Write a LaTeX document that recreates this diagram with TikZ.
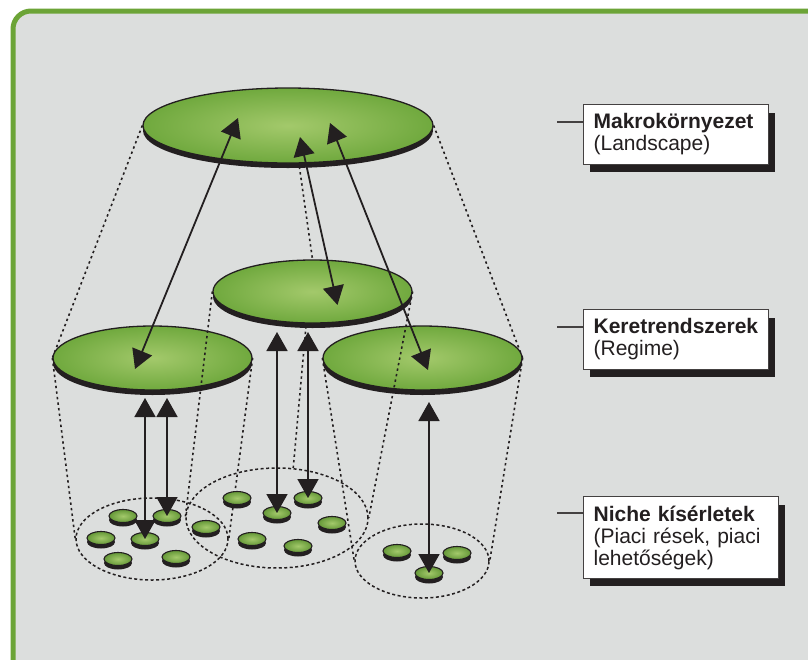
\documentclass[tikz,border=0pt]{standalone}
\usepackage{fontspec}
\setmainfont{Liberation Sans}
\usetikzlibrary{shapes.geometric,arrows.meta,shadows,backgrounds}
\definecolor{framegreen}{HTML}{6CA437}
\definecolor{panelgray}{HTML}{DCDEDD}
\definecolor{inkdark}{HTML}{231F20}
\definecolor{platein}{HTML}{A3C96B}
\definecolor{plateout}{HTML}{70A93E}
\tikzset{
  plate/.style={ellipse, inner sep=0pt, draw=inkdark, line width=1.3pt,
    inner color=platein, outer color=plateout,
    general shadow={fill=inkdark, shadow yshift=-5pt}},
  nichedisc/.style={ellipse, inner sep=0pt, draw=inkdark, line width=1.1pt,
    minimum width=28pt, minimum height=13pt,
    inner color=platein, outer color=plateout!90!black,
    general shadow={fill=inkdark, shadow yshift=-4pt}},
  nichegroup/.style={ellipse, inner sep=0pt, draw=inkdark, line width=1.5pt,
    dash pattern=on 3pt off 2.5pt},
  cone/.style={draw=inkdark, line width=1.6pt, dash pattern=on 2.4pt off 3.2pt},
  link/.style={draw=inkdark, line width=1.8pt,
    {Triangle[width=21pt,length=19pt]}-{Triangle[width=21pt,length=19pt]}},
  tag/.style={draw=inkdark!85, line width=1.2pt, fill=white, anchor=north west,
    align=left, inner xsep=10pt, inner ysep=9pt, text=inkdark,
    font=\fontsize{21}{22}\selectfont,
    general shadow={fill=inkdark, shadow xshift=6pt, shadow yshift=-8pt}},
  tagline/.style={draw=inkdark!85, line width=1.3pt}
}

\begin{document}
\begin{tikzpicture}[x=1pt,y=-1pt]
\clip (0,0) rectangle (808,659);
\begin{scope}[on background layer]
\fill[white] (0,0) rectangle (808,659);
\draw[framegreen, line width=5pt, fill=panelgray, rounded corners=18pt]
  (13,11) rectangle (850,700);
\end{scope}
%%%%%%%%%%%%%%%%%%%%%%%%%%%%%%%%
%% landscape and regimes
%%%%%%%%%%%%%%%%%%%%%%%%%%%%%%%%
\node[plate, minimum width=290pt, minimum height=75pt] (land) at (288,125.5) {};
\node[plate, minimum width=199pt, minimum height=63pt] (regM) at (312.5,291.5) {};
\node[plate, minimum width=199pt, minimum height=64pt] (regL) at (152.5,358) {};
\node[plate, minimum width=199pt, minimum height=64pt] (regR) at (422.5,358) {};
%%%%%%%%%%%%%%%%%%%%%%%%%%%%%%%%
%% niches
%%%%%%%%%%%%%%%%%%%%%%%%%%%%%%%%
\node[nichegroup, minimum width=152pt, minimum height=82pt]  (grpL) at (152,539) {};
\node[nichegroup, minimum width=182pt, minimum height=100pt] (grpC) at (277,518) {};
\node[nichegroup, minimum width=134pt, minimum height=74pt]  (grpR) at (422,561) {};
%
\node[nichedisc] (nl1) at (123,516) {};
\node[nichedisc] (nl2) at (167,516) {};
\node[nichedisc] (nl3) at (101,538) {};
\node[nichedisc] (nl4) at (145,539) {};
\node[nichedisc] (nl5) at (118,559) {};
\node[nichedisc] (nl6) at (176,557) {};
%
\node[nichedisc] (nc1) at (237,498) {};
\node[nichedisc] (nc2) at (308,498) {};
\node[nichedisc] (nc3) at (277,513) {};
\node[nichedisc] (nc4) at (206,527) {};
\node[nichedisc] (nc5) at (332,523) {};
\node[nichedisc] (nc6) at (252,539) {};
\node[nichedisc] (nc7) at (298,546) {};
%
\node[nichedisc] (nr1) at (397,551) {};
\node[nichedisc] (nr2) at (457,553) {};
\node[nichedisc] (nr3) at (429,573) {};
%%%%%%%%%%%%%%%%%%%%%%%%%%%%%%%%
%% dotted cones
%%%%%%%%%%%%%%%%%%%%%%%%%%%%%%%%
\coordinate (landB) at (297,150);
\coordinate (regMb) at (307,315);
\begin{scope}[on background layer]
\draw[cone] (land.west)--(regL.west);
\draw[cone] (land.east)--(regR.east);
\draw[cone] (landB)--(regM.north);
\draw[cone] (regL.west)--(grpL.west);
\draw[cone] (regL.east)--(grpL.east);
\draw[cone] (regMb)--(grpC.72);
\draw[cone] (regR.west)--(grpR.west);
\draw[cone] (regR.east)--(grpR.east);
\end{scope}
\draw[cone] (regM.west)--(grpC.west);
\draw[cone] (regM.east)--(grpC.east);
%%%%%%%%%%%%%%%%%%%%%%%%%%%%%%%%
%% arrows
%%%%%%%%%%%%%%%%%%%%%%%%%%%%%%%%
\coordinate (landL) at (238,118);
\coordinate (landM) at (300,137);
\coordinate (landR) at (330,123);
\coordinate (regLa) at (135,369);
\coordinate (regMa) at (337.5,305);
\coordinate (regRa) at (428,370);
\draw[link] (landL)--(regLa);
\draw[link] (landM)--(regMa);
\draw[link] (landR)--(regRa);
%
\coordinate (regLb) at (145,398);
\coordinate (regLc) at (167,398);
\coordinate (regMc) at (277,332);
\coordinate (regMd) at (308,332);
\coordinate (regRb) at (429,402);
\draw[link] (regLb)--(nl4.center);
\draw[link] (regLc)--(nl2.center);
\draw[link] (regMc)--(nc3.center);
\draw[link] (regMd)--(nc2.center);
\draw[link] (regRb)--(nr3.center);
%%%%%%%%%%%%%%%%%%%%%%%%%%%%%%%%
%% labels
%%%%%%%%%%%%%%%%%%%%%%%%%%%%%%%%
\node[tag, text width=165pt] (tagLand) at (583,104)
  {\textbf{Makrokörnyezet}\\(Landscape)};
\node[tag, text width=165pt] (tagReg) at (583,309)
  {\textbf{Keretrendszerek}\\(Regime)};
\node[tag, text width=175pt] (tagNiche) at (583,496)
  {\textbf{Niche kísérletek}\\(Piaci rések, piaci\\lehetőségek)};
\coordinate (pinLand) at (557,122);
\coordinate (pinReg) at (557,327);
\coordinate (pinNiche) at (557,513);
\draw[tagline] (pinLand)--(pinLand -| tagLand.west);
\draw[tagline] (pinReg)--(pinReg -| tagReg.west);
\draw[tagline] (pinNiche)--(pinNiche -| tagNiche.west);
\end{tikzpicture}
\end{document}
